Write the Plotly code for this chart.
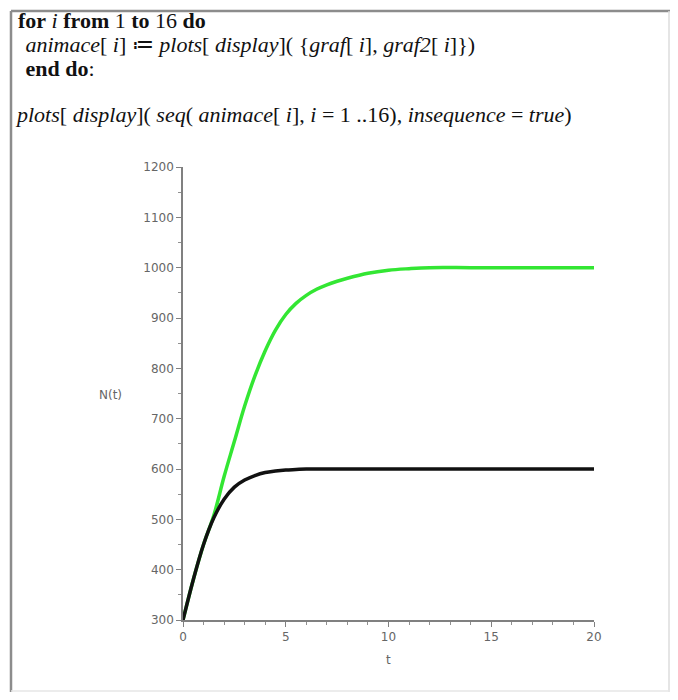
import plotly.graph_objects as go

# ---- data ----
t_black = [0, 0.5, 1.0, 1.5, 2.0, 2.5, 3.0, 3.5, 4.0, 4.5, 5.0, 5.5, 6.0, 7.0, 8.0, 10.0, 12.0, 14.0, 16.0, 18.0, 20.0]
n_black = [300, 380, 450, 503, 540, 564, 578, 587, 593, 596, 598, 599, 600, 600, 600, 600, 600, 600, 600, 600, 600]

t_green = [0, 0.5, 1.0, 1.5, 2.0, 2.5, 3.0, 3.5, 4.0, 4.5, 5.0, 5.5, 6.0, 6.5, 7.0, 7.5, 8.0, 9.0, 10.0, 11.0, 12.0, 14.0, 16.0, 18.0, 20.0]
n_green = [300, 380, 450, 508, 585, 655, 725, 785, 835, 876, 907, 929, 945, 957, 966, 973, 979, 989, 995, 998, 1000, 1000, 1000, 1000, 1000]

x_ticks = [0, 5, 10, 15, 20]
y_ticks = [300, 400, 500, 600, 700, 800, 900, 1000, 1100, 1200]

code_lines = [
    "<b>for</b> <i>i</i> <b>from</b> 1 <b>to</b> 16 <b>do</b>",
    " <i>animace</i>[ <i>i</i>] ≔ <i>plots</i>[ <i>display</i>]( {<i>graf</i>[ <i>i</i>], <i>graf2</i>[ <i>i</i>]})",
    " <b>end do</b>:",
    "<i>plots</i>[ <i>display</i>]( <i>seq</i>( <i>animace</i>[ <i>i</i>], <i>i</i> = 1 ..16), <i>insequence</i> = <i>true</i>)",
]

# ---- layout geometry (page pixels; the page body has an 8px margin) ----
OFF = 8
W, H = 678 - 2 * OFF, 700 - 2 * OFF
PL, PR, PT, PB = 183, 594, 167, 620  # plot area in page pixels
pw, ph = PR - PL, PB - PT


def px(x):
    return (x - PL) / pw


def py(y):
    return (PB - y) / ph


fig = go.Figure()
fig.add_trace(go.Scatter(x=t_green, y=n_green, mode="lines", line=dict(color="#33e633", width=3.5, shape="spline"),
                         showlegend=False, hoverinfo="skip"))
fig.add_trace(go.Scatter(x=t_black, y=n_black, mode="lines", line=dict(color="#111111", width=3.5, shape="spline"),
                         showlegend=False, hoverinfo="skip"))

tick_font = dict(family="DejaVu Sans", size=12, color="#666666")
axis_common = dict(showline=True, linecolor="#808080", linewidth=1.5, ticks="outside", tickcolor="#808080",
                   ticklen=5, tickwidth=1, showgrid=False, zeroline=False, tickfont=tick_font)

fig.update_xaxes(range=[0, 20], tickvals=x_ticks,
                 minor=dict(dtick=1, ticks="outside", ticklen=3, tickcolor="#909090"), **axis_common)
fig.update_yaxes(range=[300, 1200], tickvals=y_ticks,
                 minor=dict(dtick=50, ticks="outside", ticklen=3, tickcolor="#909090"), **axis_common)

annotations = []
text_rows = [(16, 21), (18, 44.5), (18, 68), (13, 114)]
for (tx, ty), line in zip(text_rows, code_lines):
    annotations.append(dict(x=px(tx), y=py(ty), xref="paper", yref="paper", text=line, showarrow=False,
                            xanchor="left", yanchor="middle",
                            font=dict(family="Liberation Serif, Times New Roman", size=22, color="#111111")))
annotations.append(dict(x=px(110), y=py(395), xref="paper", yref="paper", text="N(t)", showarrow=False,
                        xanchor="center", yanchor="middle", font=tick_font))
annotations.append(dict(x=px(388), y=py(660), xref="paper", yref="paper", text="t", showarrow=False,
                        xanchor="center", yanchor="middle", font=tick_font))

shapes = [
    dict(type="line", xref="paper", yref="paper", x0=px(11), x1=px(670), y0=py(11), y1=py(11),
         line=dict(color="#8c8c8c", width=2.5)),
    dict(type="line", xref="paper", yref="paper", x0=px(11), x1=px(11), y0=py(11), y1=py(692),
         line=dict(color="#8c8c8c", width=2.5)),
    dict(type="line", xref="paper", yref="paper", x0=px(669), x1=px(669), y0=py(11), y1=py(692),
         line=dict(color="#dcdcdc", width=1.5)),
    dict(type="line", xref="paper", yref="paper", x0=px(11), x1=px(670), y0=py(691), y1=py(691),
         line=dict(color="#e6e6e6", width=1.5)),
]

fig.update_layout(width=W, height=H,
                  margin=dict(l=PL - OFF, r=(W + OFF) - PR, t=PT - OFF, b=(H + OFF) - PB),
                  paper_bgcolor="white", plot_bgcolor="white",
                  annotations=annotations, shapes=shapes)

fig.write_html("out.html")
